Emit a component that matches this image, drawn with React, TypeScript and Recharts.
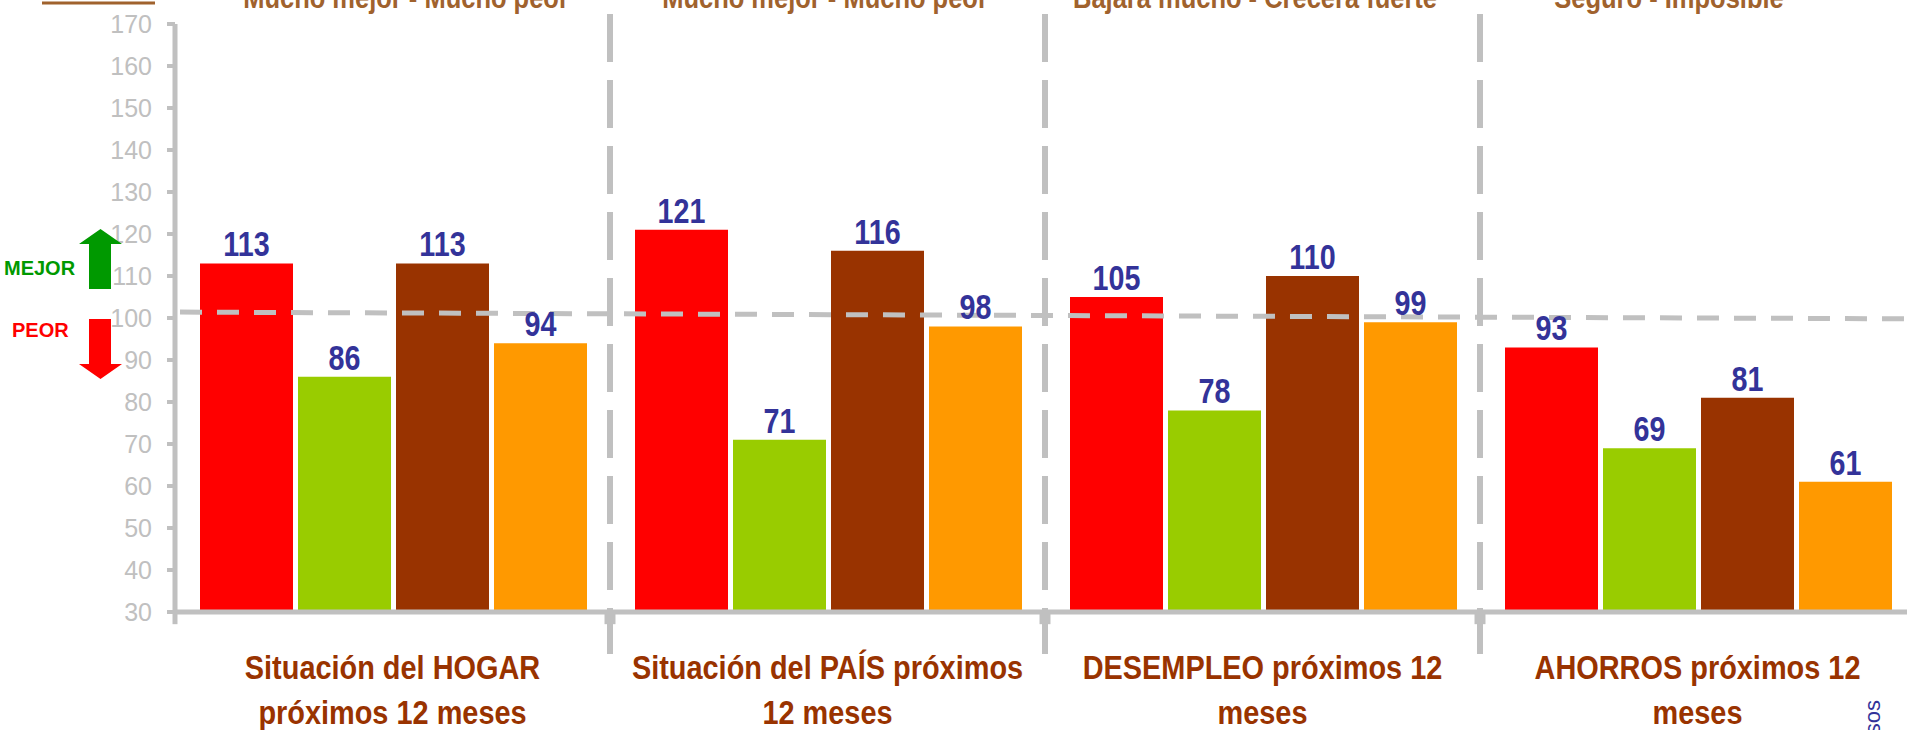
import React from 'react';
import { BarChart, Bar, XAxis, YAxis, ReferenceLine, LabelList } from 'recharts';

// Categorías (ejes) y series
const categories = [
  'Situación del HOGAR\npróximos 12 meses',
  'Situación del PAÍS próximos\n12 meses',
  'DESEMPLEO próximos 12\nmeses',
  'AHORROS próximos 12\nmeses',
];
const scaleNotes = [
  'Mucho mejor - Mucho peor',
  'Mucho mejor - Mucho peor',
  'Bajará mucho - Crecerá fuerte',
  'Seguro - Imposible',
];
const serieRoja = [113, 121, 105, 93];
const serieVerde = [86, 71, 78, 69];
const serieMarron = [113, 116, 110, 81];
const serieNaranja = [94, 98, 99, 61];
const yTicks = [30, 40, 50, 60, 70, 80, 90, 100, 110, 120, 130, 140, 150, 160, 170];
// línea de referencia del 100 (en el original queda algo inclinada)
const refLine = [101.4, 100.2];

const COLORS = ['#FF0000', '#99CC00', '#993300', '#FF9900'];
const GRID = '#C0C0C0';
const SANS = "'Liberation Sans', Arial, sans-serif";

const data = categories.map((name, i) => ({
  name,
  roja: serieRoja[i],
  verde: serieVerde[i],
  marron: serieMarron[i],
  naranja: serieNaranja[i],
}));

// no hay Arial Narrow: se estrecha la Liberation Sans en horizontal
const NarrowText = ({ x, y, scale = 0.84, children, ...rest }: any) => (
  <text
    transform={`translate(${x} ${y}) scale(${scale} 1)`}
    x={0}
    y={0}
    textAnchor="middle"
    fontFamily={SANS}
    fontWeight="bold"
    {...rest}
  >
    {children}
  </text>
);

const CategoryTick = (props: any) => {
  const { x, y, payload } = props;
  const lines = String(payload.value).split('\n');
  return (
    <g>
      {lines.map((l, i) => (
        <NarrowText key={i} x={x} y={y + 67 + i * 45} scale={0.85} fill="#993300" fontSize={34}>
          {l}
        </NarrowText>
      ))}
    </g>
  );
};

const valueLabel = (props: any) => {
  const { x, y, width, value } = props;
  return (
    <NarrowText x={x + width / 2} y={y - 7} scale={0.82} fill="#333399" fontSize={35}>
      {value}
    </NarrowText>
  );
};

// la línea va del inicio de la 1ª categoría al de la 4ª; se prolonga una categoría más
const ExtendedLine = (props: any) => {
  const { x1, y1, x2, y2, stroke, strokeWidth, strokeDasharray } = props;
  const k = 4 / 3;
  return (
    <line
      x1={x1 + 5}
      y1={y1}
      x2={x1 + (x2 - x1) * k}
      y2={y1 + (y2 - y1) * k}
      stroke={stroke}
      strokeWidth={strokeWidth}
      strokeDasharray={strokeDasharray}
    />
  );
};

const noteX = [406, 825, 1255, 1669];

const Overlay = () => (
  <svg
    width={1907}
    height={730}
    style={{ position: 'absolute', left: 0, top: 0, pointerEvents: 'none' }}
  >
    <line x1={42} y1={3} x2={155} y2={3} stroke="#A0622D" strokeWidth={3} />
    {scaleNotes.map((t, i) => (
      <NarrowText key={i} x={noteX[i]} y={8} scale={0.85} fill="#A0622D" fontSize={30}>
        {t}
      </NarrowText>
    ))}
    <polygon points="100.5,229 122,244 111,244 111,289 89,289 89,244 79,244" fill="#009900" />
    <polygon points="89,319 111,319 111,364 122,364 100.5,379 79,364 89,364" fill="#FF0000" />
    <text x={4} y={275} fill="#009900" fontFamily={SANS} fontWeight="bold" fontSize={20}>
      MEJOR
    </text>
    <text x={12} y={337} fill="#FF0000" fontFamily={SANS} fontWeight="bold" fontSize={20}>
      PEOR
    </text>
    <text
      x={1880}
      y={700}
      transform="rotate(-90 1880 700)"
      textAnchor="end"
      fill="#333399"
      fontFamily={SANS}
      fontSize={22}
    >
      Fuente: Ipsos
    </text>
  </svg>
);

export default function App() {
  return (
    <div
      style={{
        position: 'fixed',
        left: 0,
        top: 0,
        width: 1907,
        height: 730,
        overflow: 'hidden',
        background: '#fff',
      }}
    >
      <BarChart
        width={1915}
        height={730}
        data={data}
        margin={{ top: 24, right: 0, bottom: 0, left: 0 }}
        barCategoryGap={25}
        barGap={5}
      >
        <XAxis
          dataKey="name"
          height={118}
          interval={0}
          tickSize={0}
          tickMargin={0}
          tickLine={false}
          axisLine={{ stroke: GRID, strokeWidth: 5 }}
          tick={<CategoryTick />}
        />
        <YAxis
          width={175}
          domain={[30, 170]}
          ticks={yTicks}
          interval={0}
          tickSize={8}
          tickMargin={15}
          tickLine={{ stroke: GRID, strokeWidth: 4 }}
          axisLine={{ stroke: GRID, strokeWidth: 5 }}
          tick={{ fill: GRID, fontSize: 25, fontFamily: SANS }}
        />
        <Bar dataKey="roja" fill={COLORS[0]} isAnimationActive={false}>
          <LabelList dataKey="roja" content={valueLabel} />
        </Bar>
        <Bar dataKey="verde" fill={COLORS[1]} isAnimationActive={false}>
          <LabelList dataKey="verde" content={valueLabel} />
        </Bar>
        <Bar dataKey="marron" fill={COLORS[2]} isAnimationActive={false}>
          <LabelList dataKey="marron" content={valueLabel} />
        </Bar>
        <Bar dataKey="naranja" fill={COLORS[3]} isAnimationActive={false}>
          <LabelList dataKey="naranja" content={valueLabel} />
        </Bar>
        {categories.slice(1).map((c) => (
          <ReferenceLine
            key={`div-${c}`}
            position="start"
            segment={[
              { x: c, y: 172.4 },
              { x: c, y: 20 },
            ]}
            ifOverflow="visible"
            stroke={GRID}
            strokeWidth={6}
            strokeDasharray="48 18"
          />
        ))}
        {categories.map((c, i) => (
          <ReferenceLine
            key={`tick-${c}`}
            position="start"
            segment={[
              { x: c, y: 30 },
              { x: c, y: 27.1 },
            ]}
            ifOverflow="visible"
            stroke={GRID}
            strokeWidth={i === 0 ? 5 : 11}
          />
        ))}
        <ReferenceLine
          position="start"
          segment={[
            { x: categories[0], y: refLine[0] },
            { x: categories[3], y: refLine[1] },
          ]}
          ifOverflow="visible"
          stroke={GRID}
          strokeWidth={5}
          strokeDasharray="22 15"
          shape={ExtendedLine}
        />
      </BarChart>
      <Overlay />
    </div>
  );
}
